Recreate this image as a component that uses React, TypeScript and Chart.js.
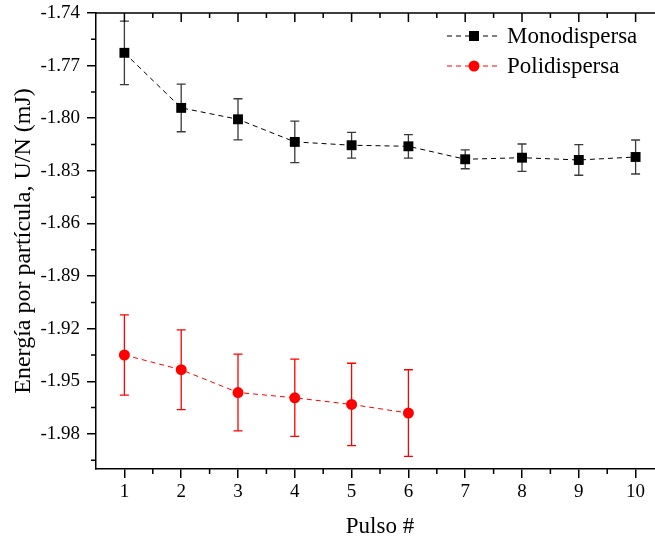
import React, { useEffect, useRef } from 'react';
import { Chart, registerables } from 'chart.js';

Chart.register(...registerables);

// ---------- data ----------
const monoLabel = 'Monodispersa';
const monoPulses = [1, 2, 3, 4, 5, 6, 7, 8, 9, 10];
const monoValues = [-1.7627, -1.7941, -1.8006, -1.8135, -1.8154, -1.816, -1.8234, -1.8225, -1.8238, -1.8221];
const monoErrors = [0.0181, 0.0136, 0.0117, 0.0118, 0.0073, 0.0067, 0.0054, 0.0078, 0.0087, 0.0097];

const polyLabel = 'Polidispersa';
const polyPulses = [1, 2, 3, 4, 5, 6];
const polyValues = [-1.935, -1.9434, -1.9564, -1.9594, -1.9632, -1.9681];
const polyErrors = [0.0229, 0.0227, 0.0219, 0.022, 0.0235, 0.0247];

const xTickValues = [1, 2, 3, 4, 5, 6, 7, 8, 9, 10];
const xMinorValues = [1.5, 2.5, 3.5, 4.5, 5.5, 6.5, 7.5, 8.5, 9.5];
const yTickValues = [-1.74, -1.77, -1.8, -1.83, -1.86, -1.89, -1.92, -1.95, -1.98];
const yMinorValues = [-1.755, -1.785, -1.815, -1.845, -1.875, -1.905, -1.935, -1.965, -1.995];

const xTitle = 'Pulso #';
const yTitle = 'Energía por partícula, U/N (mJ)';

const X_MIN = 0.5;
const X_MAX = 10.5;
const Y_MIN = -2.0;
const Y_MAX = -1.74;

const FONT = '"Liberation Serif", "Times New Roman", serif';
const RED = '#ff0000';
const BLACK = '#000000';

const errorSets = [
  { xs: monoPulses, ys: monoValues, errs: monoErrors, color: '#3a3a3a' },
  { xs: polyPulses, ys: polyValues, errs: polyErrors, color: RED },
];

const errorBarPlugin = {
  id: 'errorBars',
  beforeDatasetsDraw(chart: any) {
    const { ctx, scales } = chart;
    const xs = scales.x;
    const ys = scales.y;
    ctx.save();
    ctx.lineWidth = 1.3;
    errorSets.forEach((set) => {
      ctx.strokeStyle = set.color;
      set.xs.forEach((xv, i) => {
        const px = xs.getPixelForValue(xv);
        const pTop = ys.getPixelForValue(set.ys[i] + set.errs[i]);
        const pBot = ys.getPixelForValue(set.ys[i] - set.errs[i]);
        ctx.beginPath();
        ctx.moveTo(px, pTop);
        ctx.lineTo(px, pBot);
        ctx.moveTo(px - 4.5, pTop);
        ctx.lineTo(px + 4.5, pTop);
        ctx.moveTo(px - 4.5, pBot);
        ctx.lineTo(px + 4.5, pBot);
        ctx.stroke();
      });
    });
    ctx.restore();
  },
};

const framePlugin = {
  id: 'frame',
  afterDraw(chart: any) {
    const { ctx, chartArea, scales } = chart;
    const { left, right, top, bottom } = chartArea;
    const xs = scales.x;
    const ys = scales.y;
    ctx.save();
    ctx.strokeStyle = BLACK;
    ctx.lineWidth = 1.5;
    ctx.beginPath();
    ctx.moveTo(left, top);
    ctx.lineTo(right, top);
    ctx.lineTo(right, bottom);
    xTickValues.forEach((v) => {
      const p = xs.getPixelForValue(v);
      ctx.moveTo(p, top);
      ctx.lineTo(p, top + 9);
    });
    xMinorValues.forEach((v) => {
      const p = xs.getPixelForValue(v);
      ctx.moveTo(p, top);
      ctx.lineTo(p, top + 5);
      ctx.moveTo(p, bottom);
      ctx.lineTo(p, bottom + 5);
    });
    yTickValues.forEach((v) => {
      const p = ys.getPixelForValue(v);
      ctx.moveTo(right, p);
      ctx.lineTo(right - 9, p);
    });
    yMinorValues.forEach((v) => {
      const p = ys.getPixelForValue(v);
      ctx.moveTo(right, p);
      ctx.lineTo(right - 5, p);
      ctx.moveTo(left, p);
      ctx.lineTo(left - 5, p);
    });
    ctx.stroke();
    ctx.restore();
  },
};

const legendPlugin = {
  id: 'customLegend',
  afterDraw(chart: any) {
    const { ctx } = chart;
    const rows = [
      { label: chart.data.datasets[0].label, color: BLACK, shape: 'rect', y: 36 },
      { label: chart.data.datasets[1].label, color: RED, shape: 'circle', y: 66 },
    ];
    ctx.save();
    rows.forEach((r) => {
      ctx.strokeStyle = r.color;
      ctx.fillStyle = r.color;
      ctx.lineWidth = 1;
      ctx.setLineDash([5, 4]);
      ctx.beginPath();
      ctx.moveTo(447, r.y);
      ctx.lineTo(499, r.y);
      ctx.stroke();
      ctx.setLineDash([]);
      if (r.shape === 'rect') {
        ctx.fillRect(474 - 5, r.y - 5, 10, 10);
      } else {
        ctx.beginPath();
        ctx.arc(474, r.y, 5.5, 0, Math.PI * 2);
        ctx.fill();
      }
      ctx.fillStyle = BLACK;
      ctx.font = `23px ${FONT}`;
      ctx.textBaseline = 'middle';
      ctx.textAlign = 'left';
      ctx.fillText(r.label, 507, r.y + 1);
    });
    ctx.restore();
  },
};

export default function App() {
  const canvasRef = useRef<HTMLCanvasElement | null>(null);

  useEffect(() => {
    const canvas = canvasRef.current;
    if (!canvas) return;
    const chart = new Chart(canvas, {
      type: 'line',
      data: {
        datasets: [
          {
            label: monoLabel,
            data: monoPulses.map((x, i) => ({ x, y: monoValues[i] })),
            borderColor: BLACK,
            backgroundColor: BLACK,
            borderWidth: 1,
            borderDash: [5, 4],
            pointStyle: 'rect',
            pointRadius: 7,
            pointBorderWidth: 0,
            pointBackgroundColor: BLACK,
            tension: 0,
          },
          {
            label: polyLabel,
            data: polyPulses.map((x, i) => ({ x, y: polyValues[i] })),
            borderColor: RED,
            backgroundColor: RED,
            borderWidth: 1,
            borderDash: [5, 4],
            pointStyle: 'circle',
            pointRadius: 5.5,
            pointBorderWidth: 0,
            pointBackgroundColor: RED,
            tension: 0,
          },
        ],
      },
      options: {
        responsive: false,
        animation: false,
        devicePixelRatio: 1,
        layout: { padding: { top: 13, right: 16, left: 0, bottom: 0 } },
        plugins: {
          legend: { display: false },
          tooltip: { enabled: false },
        },
        scales: {
          x: {
            type: 'linear',
            min: X_MIN,
            max: X_MAX,
            afterBuildTicks: (s: any) => {
              s.ticks = xTickValues.map((v) => ({ value: v }));
            },
            afterFit: (s: any) => {
              s.height = 77;
              s.paddingLeft = 0;
              s.paddingRight = 0;
            },
            ticks: {
              color: BLACK,
              font: { family: FONT, size: 19 },
              padding: 3,
              maxRotation: 0,
              autoSkip: false,
              callback: (v: any) => String(v),
            },
            grid: {
              display: true,
              drawOnChartArea: false,
              drawTicks: true,
              tickLength: 9,
              color: BLACK,
              lineWidth: 1.5,
            },
            border: { display: true, color: BLACK, width: 1.5 },
            title: {
              display: true,
              text: xTitle,
              color: BLACK,
              font: { family: FONT, size: 23 },
              padding: { top: 0, bottom: 5 },
            },
          },
          y: {
            type: 'linear',
            min: Y_MIN,
            max: Y_MAX,
            afterBuildTicks: (s: any) => {
              s.ticks = yTickValues.map((v) => ({ value: v }));
            },
            afterFit: (s: any) => {
              s.width = 96;
              s.paddingTop = 0;
              s.paddingBottom = 0;
            },
            ticks: {
              color: BLACK,
              font: { family: FONT, size: 19 },
              padding: 7,
              autoSkip: false,
              callback: (v: any) => Number(v).toFixed(2),
            },
            grid: {
              display: true,
              drawOnChartArea: false,
              drawTicks: true,
              tickLength: 9,
              color: BLACK,
              lineWidth: 1.5,
            },
            border: { display: true, color: BLACK, width: 1.5 },
            title: {
              display: true,
              text: yTitle,
              color: BLACK,
              font: { family: FONT, size: 24 },
              padding: { top: 9, bottom: 0 },
            },
          },
        },
      },
      plugins: [errorBarPlugin, framePlugin, legendPlugin],
    } as any);
    return () => chart.destroy();
  }, []);

  return (
    <div
      style={{
        position: 'absolute',
        left: 0,
        top: 0,
        width: 655,
        height: 546,
        overflow: 'hidden',
        background: '#fff',
      }}
    >
      <canvas ref={canvasRef} width={680} height={546} style={{ display: 'block' }} />
    </div>
  );
}
